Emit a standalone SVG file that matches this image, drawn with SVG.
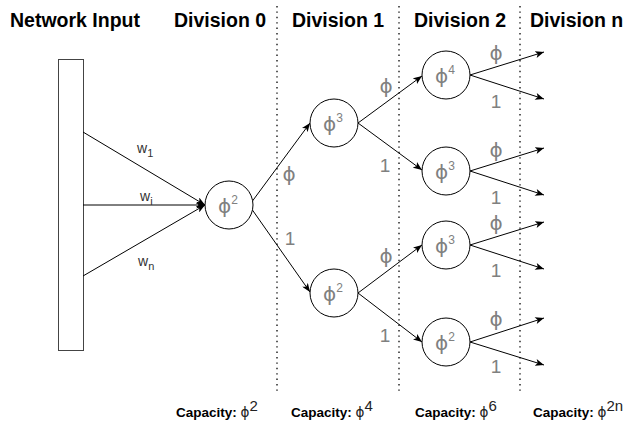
<svg xmlns="http://www.w3.org/2000/svg" width="623" height="427" viewBox="0 0 623 427">
  <defs>
    <marker id="arrow" viewBox="0 0 10 8" markerWidth="9" markerHeight="7" refX="10" refY="4" orient="auto" markerUnits="userSpaceOnUse">
      <path d="M0,0 L10,4 L0,8 L2.5,4 z" fill="#000"/>
    </marker>
    <style>
      .hdr { font-family: "Liberation Sans", Arial, sans-serif; font-weight: bold; font-size: 19.5px; fill: #000; }
      .cap { font-family: "Liberation Sans", Arial, sans-serif; font-weight: bold; font-size: 13.5px; fill: #000; }
      .capv { font-family: "DejaVu Sans", sans-serif; font-weight: normal; fill: #222; }
      .sup { font-family: "Liberation Sans", Arial, sans-serif; font-weight: normal; fill: #222; }
      .sep { stroke: #333; stroke-width: 1.6; stroke-dasharray: 1.4 4; fill: none; }
      .node circle { fill: #fff; stroke: #000; stroke-width: 1; }
      .node text { font-family: "DejaVu Sans", sans-serif; font-size: 20px; fill: #808080; }
      .node tspan { font-family: "Liberation Sans", Arial, sans-serif; font-size: 12px; }
      .edge { stroke: #000; stroke-width: 1; fill: none; marker-end: url(#arrow); }
      .elbl { font-family: "DejaVu Sans", sans-serif; font-size: 20px; fill: #808080; text-anchor: middle; }
      .one { font-family: "Liberation Sans", Arial, sans-serif; font-size: 19px; fill: #808080; text-anchor: middle; }
      .w { font-family: "Liberation Sans", Arial, sans-serif; font-size: 14px; fill: #333; }
    </style>
  </defs>

  <!-- column headers -->
  <g id="headers">
    <text class="hdr" x="10" y="27">Network Input</text>
    <text class="hdr" x="174" y="27">Division 0</text>
    <text class="hdr" x="292" y="27">Division 1</text>
    <text class="hdr" x="414" y="27">Division 2</text>
    <text class="hdr" x="530" y="27">Division n</text>
  </g>

  <!-- division separators -->
  <g id="separators">
    <line class="sep" x1="277" y1="6" x2="277" y2="392"/>
    <line class="sep" x1="399" y1="6" x2="399" y2="392"/>
    <line class="sep" x1="520" y1="6" x2="520" y2="392"/>
  </g>

  <!-- input bar -->
  <g id="input">
    <rect x="58.5" y="59.5" width="25" height="291" fill="#fff" stroke="#444" stroke-width="1"/>
  </g>

  <!-- connectors -->
  <g id="connectors">
    <line class="edge" x1="83" y1="132" x2="205" y2="205"/>
    <line class="edge" x1="83" y1="205" x2="205" y2="205"/>
    <line class="edge" x1="83" y1="276" x2="205" y2="205"/>

    <line class="edge" x1="251" y1="203" x2="310" y2="123"/>
    <line class="edge" x1="251" y1="208" x2="310" y2="292"/>

    <line class="edge" x1="358" y1="123" x2="422" y2="76"/>
    <line class="edge" x1="358" y1="123" x2="422" y2="170"/>
    <line class="edge" x1="358" y1="293" x2="422" y2="245"/>
    <line class="edge" x1="358" y1="293" x2="422" y2="342"/>

    <line class="edge" x1="470" y1="75" x2="544" y2="52"/>
    <line class="edge" x1="470" y1="75" x2="544" y2="99"/>
    <line class="edge" x1="470" y1="171" x2="544" y2="148"/>
    <line class="edge" x1="470" y1="171" x2="544" y2="195"/>
    <line class="edge" x1="470" y1="245" x2="544" y2="222"/>
    <line class="edge" x1="470" y1="245" x2="544" y2="269"/>
    <line class="edge" x1="470" y1="342" x2="544" y2="318"/>
    <line class="edge" x1="470" y1="342" x2="544" y2="365"/>
  </g>

  <!-- weight labels -->
  <g id="weights">
    <text class="w" x="137" y="153">w<tspan font-size="11" dy="4">1</tspan></text>
    <text class="w" x="140" y="201">w<tspan font-size="11" dy="4">i</tspan></text>
    <text class="w" x="138" y="266">w<tspan font-size="11" dy="4">n</tspan></text>
  </g>

  <!-- edge labels -->
  <g id="edge-labels">
    <text class="elbl" x="289" y="181">ϕ</text>
    <text class="one" x="290" y="245">1</text>
    <text class="elbl" x="386" y="93">ϕ</text>
    <text class="one" x="385" y="172">1</text>
    <text class="elbl" x="386" y="263">ϕ</text>
    <text class="one" x="385" y="342">1</text>
    <text class="elbl" x="496" y="60">ϕ</text>
    <text class="one" x="496" y="108">1</text>
    <text class="elbl" x="496" y="157">ϕ</text>
    <text class="one" x="496" y="204">1</text>
    <text class="elbl" x="496" y="230">ϕ</text>
    <text class="one" x="496" y="277">1</text>
    <text class="elbl" x="496" y="326">ϕ</text>
    <text class="one" x="496" y="373">1</text>
  </g>

  <!-- nodes -->
  <g id="n0" class="node">
    <circle cx="229" cy="205" r="24"/>
    <text x="218" y="213">ϕ<tspan dy="-9">2</tspan></text>
  </g>
  <g id="n1a" class="node">
    <circle cx="334" cy="123" r="24"/>
    <text x="323" y="131">ϕ<tspan dy="-9">3</tspan></text>
  </g>
  <g id="n1b" class="node">
    <circle cx="334" cy="293" r="24"/>
    <text x="323" y="301">ϕ<tspan dy="-9">2</tspan></text>
  </g>
  <g id="n2a" class="node">
    <circle cx="446" cy="75" r="24"/>
    <text x="435" y="83">ϕ<tspan dy="-9">4</tspan></text>
  </g>
  <g id="n2b" class="node">
    <circle cx="446" cy="171" r="24"/>
    <text x="435" y="179">ϕ<tspan dy="-9">3</tspan></text>
  </g>
  <g id="n2c" class="node">
    <circle cx="446" cy="245" r="24"/>
    <text x="435" y="253">ϕ<tspan dy="-9">3</tspan></text>
  </g>
  <g id="n2d" class="node">
    <circle cx="446" cy="342" r="24"/>
    <text x="435" y="350">ϕ<tspan dy="-9">2</tspan></text>
  </g>

  <!-- capacity per division -->
  <g id="capacity">
    <text class="cap" x="176" y="417">Capacity: <tspan class="capv">ϕ</tspan><tspan class="sup" font-size="15" dy="-6">2</tspan></text>
    <text class="cap" x="291" y="417">Capacity: <tspan class="capv">ϕ</tspan><tspan class="sup" font-size="15" dy="-6">4</tspan></text>
    <text class="cap" x="415" y="417">Capacity: <tspan class="capv">ϕ</tspan><tspan class="sup" font-size="15" dy="-6">6</tspan></text>
    <text class="cap" x="533" y="417">Capacity: <tspan class="capv">ϕ</tspan><tspan class="sup" font-size="15" dy="-6">2n</tspan></text>
  </g>
</svg>
